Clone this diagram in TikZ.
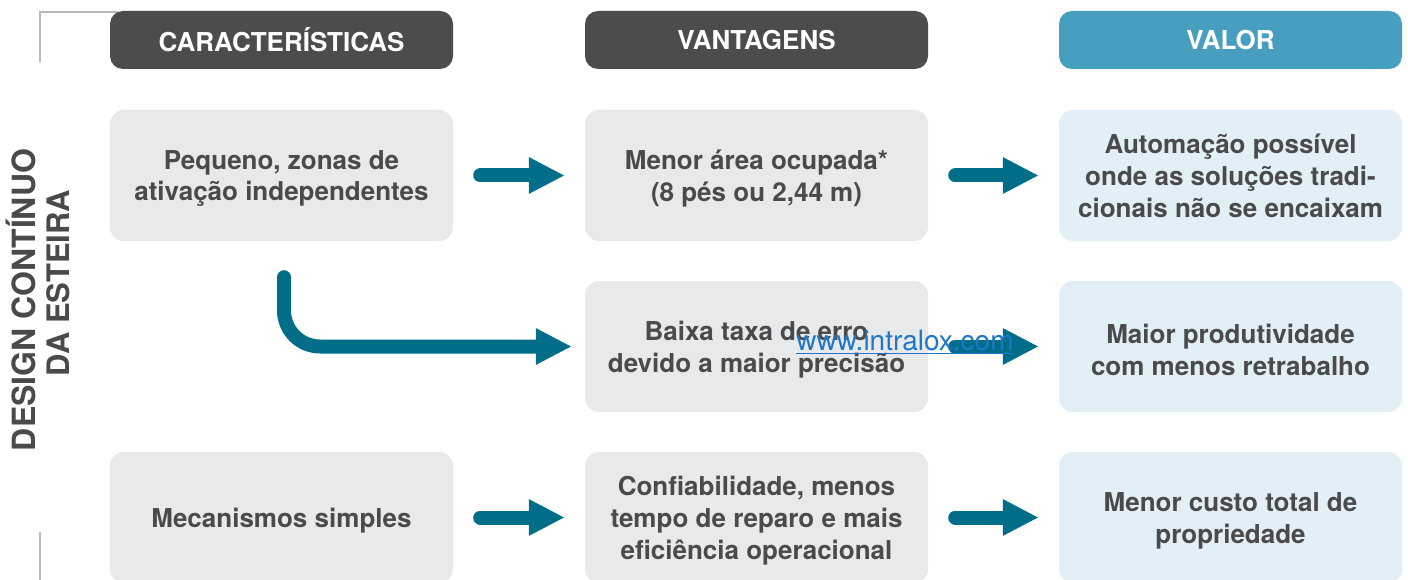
\documentclass[tikz,border=0pt]{standalone}
\usepackage{fontspec}
\setmainfont{TeX Gyre Heros}
\usetikzlibrary{arrows.meta}
\definecolor{hdrdark}{HTML}{4C4C4E}
\definecolor{hdrblue}{HTML}{489EBF}
\definecolor{boxgray}{HTML}{E8E9EB}
\definecolor{boxblue}{HTML}{E2EFF6}
\definecolor{txtgray}{HTML}{4A4A4C}
\definecolor{arrowteal}{HTML}{006E89}
\definecolor{linkblue}{HTML}{1F77C9}
\definecolor{bracketgray}{HTML}{B8B8B8}
\tikzset{
  hdr/.style={rounded corners=13pt, minimum width=343pt, minimum height=58pt, inner sep=0pt,
    text=white, font=\fontsize{26}{30}\selectfont\bfseries},
  cell/.style={rounded corners=14pt, minimum width=343pt, minimum height=131pt, inner sep=0pt},
  celltext/.style={inner sep=0pt, text=txtgray, align=center, font=\fontsize{26}{32}\selectfont\bfseries},
  sidetext/.style={rotate=90, inner sep=0pt, text=txtgray, font=\fontsize{32}{37}\selectfont\bfseries},
  flow/.style={draw=arrowteal, line width=14pt, line cap=round,
    -{Triangle[length=36pt,width=34pt]}},
}
\begin{document}
\begin{tikzpicture}[x=1pt,y=-1pt]
\useasboundingbox (0,0) rectangle (1408,580);
\fill[white] (0,0) rectangle (1408,580);
\begin{scope}
\clip (0,0) rectangle (1408,580);
% bracket lines
\draw[bracketgray, line width=2pt] (40,62) -- (40,12) -- (118,12);
\draw[bracketgray, line width=2pt] (40,532) -- (40,582);
% headers
\node[hdr, fill=hdrdark] (h1) at (281.5,40) {CARACTERÍSTICAS};
\node[hdr, fill=hdrdark] (h2) at (756.5,40) {VANTAGENS};
\node[hdr, fill=hdrblue] (h3) at (1230.5,40) {VALOR};
% boxes
\node[cell, fill=boxgray] (c1) at (281.5,175.5) {};
\node[cell, fill=boxgray] (v1) at (756.5,175.5) {};
\node[cell, fill=boxblue] (w1) at (1230.5,175.5) {};
\node[cell, fill=boxgray] (v2) at (756.5,346.5) {};
\node[cell, fill=boxblue] (w2) at (1230.5,346.5) {};
\node[cell, fill=boxgray] (c3) at (281.5,517.5) {};
\node[cell, fill=boxgray] (v3) at (756.5,517.5) {};
\node[cell, fill=boxblue] (w3) at (1230.5,517.5) {};
% box texts
\node[celltext] (c1t) at ([yshift=-3pt]c1.center) {Pequeno, zonas de\\ativação independentes};
\node[celltext] (v1t) at ([yshift=-3pt]v1.center) {Menor área ocupada*\\(8 pés ou 2,44 m)};
\node[celltext] (w1t) at ([yshift=0pt]w1.center) {Automação possível\\onde as soluções tradi-\\cionais não se encaixam};
\node[celltext] (v2t) at ([yshift=-3pt]v2.center) {Baixa taxa de erro\\devido a maior precisão};
\node[celltext] (w2t) at ([yshift=-3pt]w2.center) {Maior produtividade\\com menos retrabalho};
\node[celltext] (c3t) at ([yshift=-3pt]c3.center) {Mecanismos simples};
\node[celltext] (v3t) at ([yshift=-3pt]v3.center) {Confiabilidade, menos\\tempo de reparo e mais\\eficiência operacional};
\node[celltext] (w3t) at ([yshift=-3pt]w3.center) {Menor custo total de\\propriedade};
% side label
\node[sidetext] (side1) at (21,300) {DESIGN CONTÍNUO};
\node[sidetext, font=\fontsize{31}{37}\selectfont\bfseries] (side2) at (58,283) {DA ESTEIRA};
% arrows
\draw[flow] ([xshift=27pt]c1.east) -- ([xshift=-20pt]v1.west);
\draw[flow] ([xshift=27pt]v1.east) -- ([xshift=-20pt]w1.west);
\draw[flow] ([xshift=27pt]c3.east) -- ([xshift=-20pt]v3.west);
\draw[flow] ([xshift=27pt]v3.east) -- ([xshift=-20pt]w3.west);
\draw[flow] ([xshift=27pt]v2.east) -- ([xshift=-20pt]w2.west);
\draw[flow, rounded corners=36pt] ([xshift=2.5pt,yshift=-36pt]c1.south) |- ([xshift=-13pt]v2.west);
\end{scope}
% link text
\node[text=linkblue, inner sep=0pt, font=\fontsize{28}{30}\selectfont] (link) at (905,342) {\underline{www.intralox.com}};
\end{tikzpicture}
\end{document}
